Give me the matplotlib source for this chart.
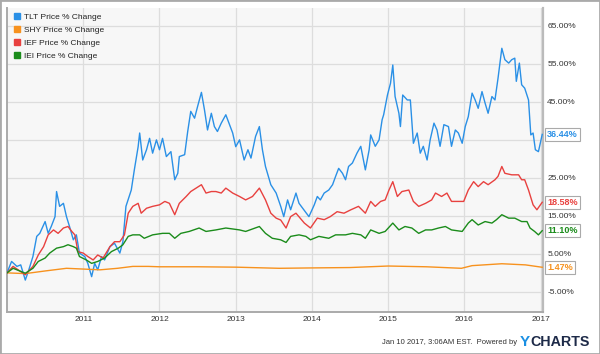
import matplotlib
matplotlib.use('Agg')
import matplotlib.pyplot as plt
from matplotlib.lines import Line2D
from matplotlib.patches import Rectangle
import matplotlib.transforms as mtransforms

plt.rcParams['font.family'] = ['Liberation Sans', 'DejaVu Sans']

# Values (decimal year, % change)
tlt_t = [2010.00, 2010.06, 2010.13, 2010.18, 2010.24, 2010.28, 2010.34, 2010.39, 2010.43, 2010.50,
         2010.54, 2010.58, 2010.63, 2010.65, 2010.69, 2010.74, 2010.78, 2010.82, 2010.87, 2010.91,
         2010.95, 2011.02, 2011.06, 2011.11, 2011.15, 2011.19, 2011.24, 2011.28, 2011.35, 2011.41,
         2011.48, 2011.52, 2011.56, 2011.63, 2011.67, 2011.72, 2011.74, 2011.78, 2011.83, 2011.87,
         2011.91, 2011.96, 2012.00, 2012.04, 2012.09, 2012.15, 2012.20, 2012.24, 2012.26, 2012.33,
         2012.37, 2012.41, 2012.46, 2012.50, 2012.55, 2012.59, 2012.63, 2012.68, 2012.72, 2012.76,
         2012.81, 2012.87, 2012.92, 2012.96, 2013.00, 2013.05, 2013.11, 2013.16, 2013.20, 2013.26,
         2013.31, 2013.35, 2013.39, 2013.46, 2013.53, 2013.59, 2013.63, 2013.68, 2013.72, 2013.79,
         2013.83, 2013.96, 2014.03, 2014.07, 2014.11, 2014.16, 2014.22, 2014.27, 2014.31, 2014.35,
         2014.40, 2014.44, 2014.48, 2014.53, 2014.59, 2014.64, 2014.70, 2014.75, 2014.77, 2014.83,
         2014.88, 2014.92, 2014.94, 2014.99, 2015.03, 2015.06, 2015.09, 2015.14, 2015.16, 2015.19,
         2015.25, 2015.29, 2015.33, 2015.38, 2015.42, 2015.46, 2015.51, 2015.55, 2015.60, 2015.64,
         2015.68, 2015.73, 2015.79, 2015.83, 2015.88, 2015.92, 2015.97, 2016.01, 2016.05, 2016.10,
         2016.14, 2016.18, 2016.23, 2016.27, 2016.31, 2016.36, 2016.40, 2016.44, 2016.49, 2016.53,
         2016.58, 2016.62, 2016.66, 2016.68, 2016.72, 2016.75, 2016.79, 2016.84, 2016.87, 2016.90,
         2016.93, 2016.97, 2017.02]
tlt_v = [0.0, 3.0, 1.7, 2.1, -1.9, 0.4, 4.3, 9.6, 10.4, 13.5,
         10.4, 12.2, 14.8, 21.4, 17.5, 18.3, 14.8, 12.2, 8.7, 10.0,
         5.2, 4.3, 2.5, -1.0, 2.5, 0.8, 4.3, 3.4, 6.9, 7.8,
         5.2, 8.2, 17.5, 21.8, 27.1, 33.2, 36.8, 29.7, 32.4, 35.4,
         31.5, 35.0, 32.4, 35.4, 30.6, 31.9, 24.5, 26.2, 30.6, 31.1,
         37.2, 42.5, 40.7, 43.8, 47.5, 42.9, 37.6, 42.0, 38.5, 37.2,
         39.4, 41.6, 38.9, 36.8, 33.2, 35.0, 29.7, 32.4, 30.2, 35.9,
         38.5, 32.4, 28.0, 23.2, 21.0, 17.5, 14.8, 19.2, 16.6, 21.0,
         18.3, 14.8, 17.9, 20.1, 19.2, 21.0, 21.8, 23.2, 25.4, 27.5,
         26.2, 24.5, 28.0, 28.9, 31.5, 33.3, 27.1, 32.4, 36.3, 33.3,
         35.0, 40.3, 41.6, 46.8, 49.9, 54.7, 46.4, 42.0, 38.5, 46.8,
         45.5, 45.5, 34.1, 36.8, 31.5, 33.3, 29.7, 35.0, 39.4, 37.6,
         33.3, 39.0, 38.5, 33.3, 37.6, 36.8, 34.1, 38.5, 41.1, 47.3,
         45.5, 43.3, 47.7, 44.7, 42.0, 46.4, 45.5, 51.2, 59.1, 56.1,
         55.2, 56.1, 56.5, 50.4, 55.2, 49.5, 48.6, 45.5, 36.3, 36.8,
         32.4, 31.9, 36.44]

shy_t = [2010.00, 2010.24, 2010.50, 2010.78, 2011.00, 2011.22, 2011.45, 2011.65, 2011.85, 2012.00,
         2012.50, 2013.00, 2013.57, 2014.00, 2014.50, 2015.00, 2015.50, 2015.96, 2016.10, 2016.49,
         2016.80, 2017.02]
shy_v = [0.0, -0.2, 0.5, 1.2, 1.0, 0.8, 1.2, 1.7, 1.7, 1.6,
         1.6, 1.5, 1.2, 1.3, 1.4, 1.8, 1.6, 1.2, 1.9, 2.4,
         2.1, 1.47]

ief_t = [2010.00, 2010.08, 2010.24, 2010.34, 2010.41, 2010.48, 2010.54, 2010.61, 2010.67, 2010.74,
         2010.80, 2010.85, 2010.89, 2010.93, 2011.00, 2011.06, 2011.13, 2011.19, 2011.26, 2011.35,
         2011.41, 2011.48, 2011.54, 2011.59, 2011.65, 2011.72, 2011.76, 2011.83, 2011.91, 2012.00,
         2012.07, 2012.13, 2012.20, 2012.26, 2012.35, 2012.41, 2012.48, 2012.55, 2012.61, 2012.68,
         2012.74, 2012.81, 2012.87, 2012.96, 2013.05, 2013.13, 2013.22, 2013.31, 2013.39, 2013.46,
         2013.53, 2013.59, 2013.66, 2013.72, 2013.79, 2013.90, 2013.98, 2014.07, 2014.16, 2014.24,
         2014.33, 2014.42, 2014.51, 2014.61, 2014.70, 2014.77, 2014.83, 2014.90, 2014.96, 2015.01,
         2015.06, 2015.12, 2015.18, 2015.27, 2015.33, 2015.40, 2015.49, 2015.57, 2015.62, 2015.70,
         2015.77, 2015.83, 2015.92, 2015.99, 2016.05, 2016.12, 2016.18, 2016.25, 2016.31, 2016.40,
         2016.44, 2016.49, 2016.53, 2016.62, 2016.71, 2016.75, 2016.79, 2016.84, 2016.90, 2016.95,
         2017.02]
ief_v = [0.0, 1.7, -0.5, 1.7, 4.7, 6.9, 10.0, 11.3, 10.4, 11.8,
         12.2, 10.9, 10.0, 5.6, 5.2, 4.3, 3.4, 4.7, 3.9, 6.9,
         8.2, 8.2, 10.0, 15.7, 17.5, 18.3, 15.7, 17.0, 17.5, 17.9,
         18.8, 18.3, 15.3, 18.3, 20.1, 21.4, 22.3, 23.2, 21.0, 21.4,
         21.4, 21.0, 22.3, 21.0, 20.1, 19.2, 20.1, 22.3, 19.2, 15.7,
         14.4, 13.9, 11.8, 14.8, 15.7, 13.1, 11.8, 14.4, 14.0, 14.8,
         16.1, 15.7, 16.6, 17.5, 15.7, 18.8, 17.5, 18.8, 19.2, 21.8,
         24.0, 20.1, 21.4, 21.8, 18.8, 17.5, 18.3, 19.2, 21.0, 20.1,
         21.0, 18.8, 18.8, 18.8, 21.8, 24.0, 22.7, 24.0, 23.2, 24.5,
         25.4, 28.0, 26.2, 25.8, 25.8, 24.5, 24.5, 21.8, 17.9, 16.6,
         18.58]

iei_t = [2010.00, 2010.08, 2010.24, 2010.34, 2010.41, 2010.50, 2010.56, 2010.65, 2010.74, 2010.80,
         2010.87, 2010.91, 2010.95, 2011.04, 2011.11, 2011.19, 2011.28, 2011.37, 2011.46, 2011.52,
         2011.59, 2011.65, 2011.74, 2011.80, 2011.91, 2012.04, 2012.13, 2012.20, 2012.28, 2012.39,
         2012.52, 2012.61, 2012.74, 2012.87, 2013.05, 2013.13, 2013.31, 2013.39, 2013.48, 2013.59,
         2013.66, 2013.72, 2013.83, 2013.92, 2013.98, 2014.09, 2014.22, 2014.31, 2014.44, 2014.53,
         2014.64, 2014.70, 2014.77, 2014.88, 2014.96, 2015.06, 2015.14, 2015.22, 2015.31, 2015.40,
         2015.49, 2015.57, 2015.66, 2015.75, 2015.83, 2015.97, 2016.05, 2016.10, 2016.18, 2016.27,
         2016.36, 2016.42, 2016.49, 2016.58, 2016.66, 2016.75, 2016.82, 2016.86, 2016.92, 2016.97,
         2017.02]
iei_v = [0.0, 1.2, -0.1, 1.2, 3.0, 3.9, 5.2, 6.5, 6.9, 7.4,
         6.9, 6.5, 4.3, 3.4, 2.5, 3.0, 3.9, 5.6, 6.5, 7.4,
         9.6, 10.0, 10.0, 9.1, 10.0, 10.4, 10.4, 9.1, 10.4, 10.9,
         11.8, 10.9, 11.3, 11.8, 11.3, 10.9, 12.2, 10.4, 9.1, 8.7,
         8.0, 9.6, 10.0, 9.6, 8.7, 9.6, 9.1, 10.0, 10.0, 10.4,
         10.0, 9.1, 11.3, 10.4, 10.9, 13.1, 11.3, 12.2, 11.8, 10.4,
         11.3, 11.3, 11.8, 12.2, 11.3, 10.9, 13.1, 14.0, 12.6, 13.5,
         13.1, 14.0, 15.3, 14.4, 14.4, 13.5, 13.5, 11.8, 10.9, 10.0,
         11.10]

names = ['TLT Price % Change', 'SHY Price % Change', 'IEF Price % Change', 'IEI Price % Change']
colors = ['#2a90e6', '#f7921e', '#e8413f', '#1b8c1b']
series = [(tlt_t, tlt_v), (shy_t, shy_v), (ief_t, ief_v), (iei_t, iei_v)]

years = [2011, 2012, 2013, 2014, 2015, 2016, 2017]
yticks = [-5, 5, 15, 25, 35, 45, 55, 65]

fig = plt.figure(figsize=(6, 3.54), dpi=100)
ax = fig.add_axes([7 / 600, 1 - 312 / 354, 536 / 600, 304 / 354])
ax.set_facecolor('#f7f7f7')

for (t, v), c in zip(series, colors):
    ax.plot(t, v, color=c, linewidth=1.0, zorder=3)

ax.set_xlim(2010.0, 2017.03)
ax.set_ylim(-10.3, 69.7)
ax.set_xticks(years)
ax.set_xticklabels([str(y) for y in years])
ax.set_yticks(yticks)
ax.set_yticklabels(['%.2f%%' % y for y in yticks])
ax.yaxis.tick_right()
ax.tick_params(axis='both', length=0, labelsize=6, colors='#333333')
ax.tick_params(axis='y', pad=3)
ax.tick_params(axis='x', pad=3)
ax.grid(True, color='#dddddd', linewidth=0.9)
ax.set_axisbelow(True)

ax.spines['top'].set_visible(False)
for s in ['left', 'bottom']:
    ax.spines[s].set_color('#aaaaaa')
    ax.spines[s].set_linewidth(1.4)
ax.spines['right'].set_color('#bbbbbb')
ax.spines['right'].set_linewidth(1.6)

# Legend with square markers
handles = [Line2D([], [], marker='s', linestyle='', color=c, markersize=3.8) for c in colors]
ax.legend(handles, names, loc='upper left', bbox_to_anchor=(0.0, 1.005), frameon=False,
          fontsize=6, handlelength=0.8, handletextpad=0.5, labelspacing=0.62,
          borderaxespad=0.4, labelcolor='#222222')

# Last value tags on the right
trans = mtransforms.blended_transform_factory(ax.transAxes, ax.transData)
for (t, v), c in zip(series, colors):
    ax.text(1.008, v[-1], '%.2f%%' % v[-1], transform=trans, color=c, fontsize=6.5,
            fontweight='bold', va='center', ha='left', zorder=10, clip_on=False,
            bbox=dict(boxstyle='square,pad=0.2', facecolor='white', edgecolor='#aaaaaa', linewidth=0.8))

# Footer
fig.text(517 / 600, 1 - 343 / 354, 'Jan 10 2017, 3:06AM EST.  Powered by', fontsize=5.5,
         color='#333333', ha='right', va='center')
fig.text(520 / 600, 1 - 342 / 354, 'Y', fontsize=11, fontweight='bold', color='#1a8fe3',
         ha='left', va='center')
fig.text(530 / 600, 1 - 342 / 354, 'CHARTS', fontsize=10.3, fontweight='bold', color='#1d2a48',
         ha='left', va='center')

fig.patches.append(Rectangle((0, 0), 1, 1, transform=fig.transFigure, fill=False,
                             edgecolor='#aaaaaa', linewidth=2.0))

fig.savefig('out.png', dpi=100, facecolor='white')
